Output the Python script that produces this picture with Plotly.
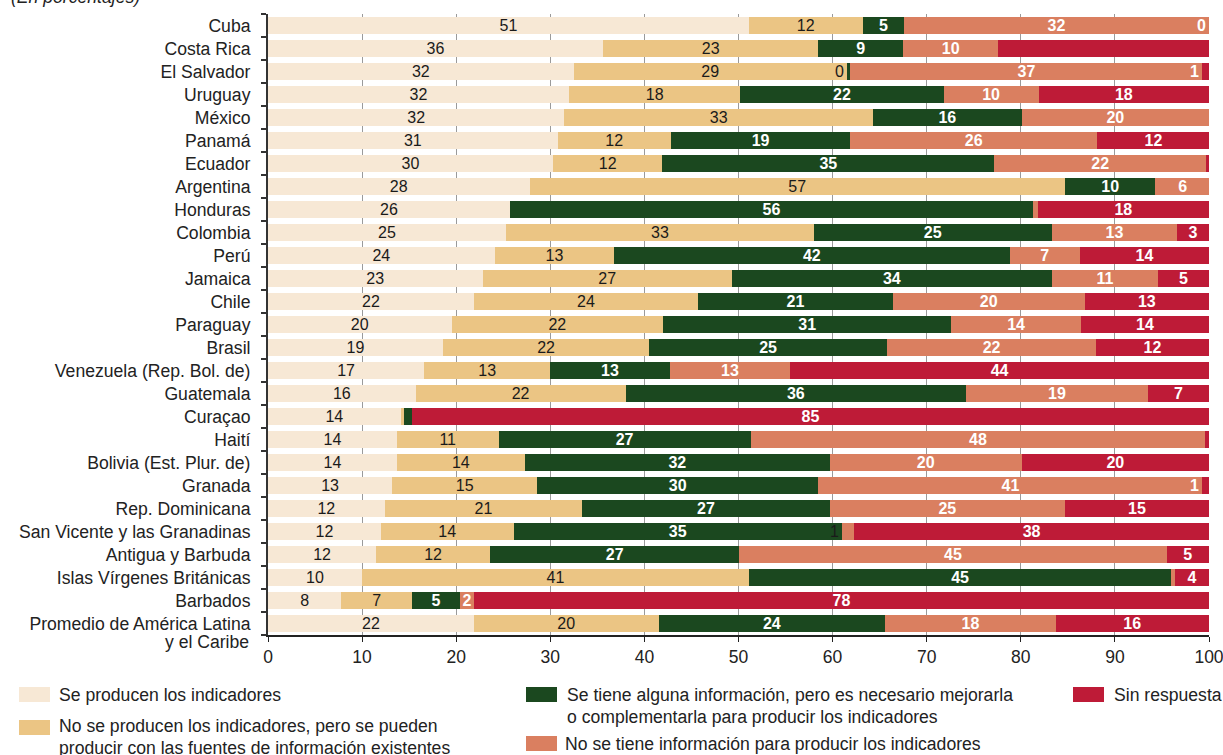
import plotly.graph_objects as go

countries = ["Cuba", "Costa Rica", "El Salvador", "Uruguay", "México", "Panamá", "Ecuador",
             "Argentina", "Honduras", "Colombia", "Perú", "Jamaica", "Chile", "Paraguay", "Brasil",
             "Venezuela (Rep. Bol. de)", "Guatemala", "Curaçao", "Haití", "Bolivia (Est. Plur. de)",
             "Granada", "Rep. Dominicana", "San Vicente y las Granadinas", "Antigua y Barbuda",
             "Islas Vírgenes Británicas", "Barbados", "Promedio de América Latina y el Caribe"]

series_names = [
    "Se producen los indicadores",
    "No se producen los indicadores, pero se pueden producir con las fuentes de información existentes",
    "Se tiene alguna información, pero es necesario mejorarla o complementarla para producir los indicadores",
    "No se tiene información para producir los indicadores",
    "Sin respuesta",
]

producen = [51.1, 35.6, 32.5, 32.0, 31.5, 30.8, 30.3, 27.8, 25.7, 25.3, 24.1, 22.8, 21.9, 19.5, 18.6,
            16.6, 15.7, 14.1, 13.7, 13.7, 13.2, 12.4, 12.0, 11.5, 10.0, 7.8, 21.9]
pueden = [12.1, 22.9, 29.0, 18.2, 32.8, 12.0, 11.6, 56.9, 0.0, 32.7, 12.7, 26.5, 23.8, 22.5, 21.9,
          13.4, 22.3, 0.4, 10.8, 13.6, 15.4, 21.0, 14.1, 12.1, 41.1, 7.5, 19.6]
mejorar = [4.4, 9.0, 0.4, 21.6, 15.8, 19.1, 35.3, 9.6, 55.6, 25.3, 42.0, 34.0, 20.7, 30.6, 25.3,
           12.7, 36.2, 0.8, 26.8, 32.4, 29.9, 26.3, 34.9, 26.5, 44.9, 5.1, 24.1]
sin_info = [32.4, 10.1, 37.4, 10.1, 19.9, 26.2, 22.5, 5.8, 0.5, 13.3, 7.5, 11.3, 20.4, 13.8, 22.2,
            12.8, 19.3, 0.0, 48.3, 20.4, 40.8, 25.0, 1.3, 45.4, 0.4, 1.5, 18.1]
sin_resp = [0.0, 22.4, 0.7, 18.1, 0.0, 12.0, 0.3, 0.0, 18.2, 3.4, 13.7, 5.4, 13.2, 13.6, 12.0,
            44.5, 6.5, 84.7, 0.4, 19.9, 0.7, 15.3, 37.7, 4.5, 3.6, 78.1, 16.3]

lab_producen = ["51", "36", "32", "32", "32", "31", "30", "28", "26", "25", "24", "23", "22", "20", "19",
                "17", "16", "14", "14", "14", "13", "12", "12", "12", "10", "8", "22"]
lab_pueden = ["12", "23", "29", "18", "33", "12", "12", "57", "", "33", "13", "27", "24", "22", "22",
              "13", "22", "", "11", "14", "15", "21", "14", "12", "41", "7", "20"]
lab_mejorar = ["5", "9", "", "22", "16", "19", "35", "10", "56", "25", "42", "34", "21", "31", "25",
               "13", "36", "", "27", "32", "30", "27", "35", "27", "45", "5", "24"]
lab_sin_info = ["32", "10", "37", "10", "20", "26", "22", "6", "", "13", "7", "11", "20", "14", "22",
                "13", "19", "", "48", "20", "41", "25", "", "45", "", "2", "18"]
lab_sin_resp = ["", "", "", "18", "", "12", "", "", "18", "3", "14", "5", "13", "14", "12",
                "44", "7", "85", "", "20", "", "15", "38", "5", "4", "78", "16"]

# labels of thin segments written just left of the segment: (row, series, text)
side_labels = [(0, 4, "0"), (2, 2, "0"), (2, 4, "1"), (20, 4, "1"), (22, 3, "1")]

colors = ["#F7E8D5", "#EBC584", "#1B481F", "#DA7F60", "#BE1B37"]
text_colors = ["#1a1a1a", "#1a1a1a", "white", "white", "white"]
text_weights = ["normal", "normal", "bold", "bold", "bold"]

FONT = "Liberation Sans, Arial, sans-serif"
LAB = 16
CAT = 17.6
TICK = 17.5

values = [producen, pueden, mejorar, sin_info, sin_resp]
labels = [lab_producen, lab_pueden, lab_mejorar, lab_sin_info, lab_sin_resp]

fig = go.Figure()
for i in range(5):
    fig.add_trace(go.Bar(
        y=countries, x=values[i], orientation="h", name=series_names[i],
        marker=dict(color=colors[i], line=dict(width=0)),
        text=labels[i], textposition="inside", insidetextanchor="middle",
        constraintext="none", textangle=0,
        textfont=dict(family=FONT, size=LAB, color=text_colors[i], weight=text_weights[i]),
        showlegend=False, hoverinfo="skip",
    ))

# geometry helpers (page pixel -> paper)
L, R, T, B = 268, 14, 14, 120
W, H = 1223, 755
PW, PH = W - L - R, H - T - B


def px(xp):
    return (xp - L) / PW


def py(yp):
    return (H - B - yp) / PH


annotations = []
shapes = []

# thin-segment labels
for row, s, txt in side_labels:
    start = sum(values[k][row] for k in range(s))
    col = "white" if s == 4 else "#1a1a1a"
    wt = "bold" if s == 4 else "normal"
    annotations.append(dict(x=start, y=countries[row], xref="x", yref="y", text=txt,
                            showarrow=False, xanchor="right", yanchor="middle", xshift=-1,
                            font=dict(family=FONT, size=LAB, color=col, weight=wt)))

# tick text (last category split over two lines)
ticktext = countries[:-1] + ["Promedio de América Latina"]
annotations.append(dict(x=px(251), y=countries[-1], xref="paper", yref="y", text="y el Caribe",
                        showarrow=False, xanchor="right", yanchor="middle", yshift=-18,
                        font=dict(family=FONT, size=CAT, color="#222")))

# subtitle, mostly cut off at top
annotations.append(dict(x=px(9), y=py(-3), xref="paper", yref="paper", text="<i>(En porcentajes)</i>",
                        showarrow=False, xanchor="left", yanchor="middle",
                        font=dict(family=FONT, size=CAT, color="#222")))

# custom legend
legend_items = [
    (0, 19, 687, [(57, 694.5, "Se producen los indicadores")]),
    (1, 19, 720, [(57, 726, "No se producen los indicadores, pero se pueden"),
                  (57, 747.5, "producir con las fuentes de información existentes")]),
    (2, 526, 687, [(565, 695, "Se tiene alguna información, pero es necesario mejorarla"),
                   (565, 716.5, "o complementarla para producir los indicadores")]),
    (3, 526, 736, [(563, 744.5, "No se tiene información para producir los indicadores")]),
    (4, 1073, 687, [(1112, 694.5, "Sin respuesta")]),
]
for idx, sx, sy, lines in legend_items:
    shapes.append(dict(type="rect", xref="paper", yref="paper", x0=px(sx), x1=px(sx + 31),
                       y0=py(sy), y1=py(sy + 15), fillcolor=colors[idx], line=dict(width=0)))
    for tx, ty, txt in lines:
        annotations.append(dict(x=px(tx), y=py(ty), xref="paper", yref="paper", text=txt,
                                showarrow=False, xanchor="left", yanchor="middle",
                                font=dict(family=FONT, size=CAT, color="#222")))

fig.update_layout(
    width=W, height=H,
    margin=dict(l=L, r=R, t=T, b=B, pad=0, autoexpand=False),
    barmode="stack", bargap=0.29,
    plot_bgcolor="white", paper_bgcolor="white",
    font=dict(family=FONT, size=TICK, color="#222"),
    annotations=annotations, shapes=shapes,
    xaxis=dict(range=[0, 100], dtick=10, tick0=0, showgrid=True, gridcolor="#9a9a9a", gridwidth=1,
               zeroline=False, showline=True, linecolor="#222", linewidth=1.5, automargin=False,
               ticks="outside", ticklen=5, tickcolor="#222", tickwidth=1, ticklabeloverflow="allow",
               tickfont=dict(family=FONT, size=TICK, color="#222"), fixedrange=True),
    yaxis=dict(type="category", autorange="reversed", tickmode="array", tickvals=countries,
               ticktext=ticktext, tickson="boundaries", ticks="outside", ticklen=5, automargin=False,
               tickcolor="#333", tickwidth=1.5, showline=True, linecolor="#333", linewidth=2,
               showgrid=False, zeroline=False, ticklabelstandoff=12,
               tickfont=dict(family=FONT, size=CAT, color="#222"), fixedrange=True),
)

fig.write_html("out.html", config={"displayModeBar": False},
               post_script="document.body.style.margin='0';document.body.style.overflow='hidden';")
